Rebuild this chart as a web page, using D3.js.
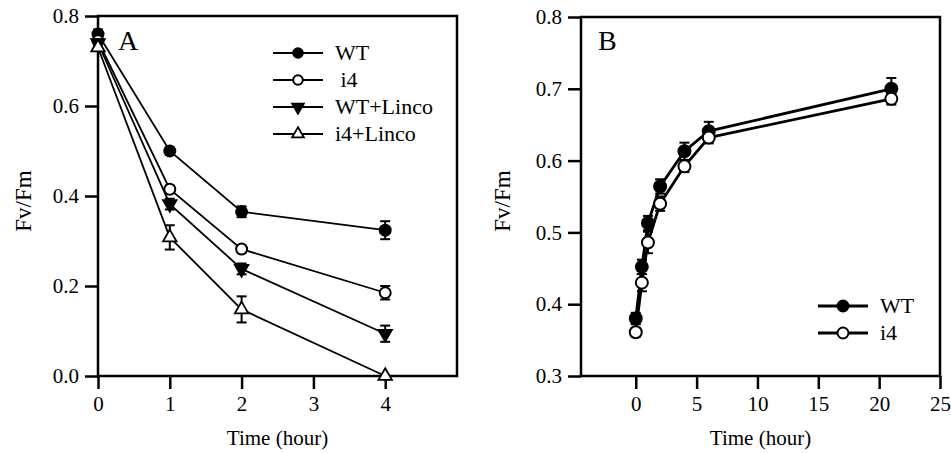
<!DOCTYPE html>
<html>
<head>
<meta charset="utf-8">
<script src="https://cdn.jsdelivr.net/npm/d3@7"></script>
<style>
  body { margin: 0; background: #fff; }
</style>
</head>
<body>
<div id="chart"></div>
<script>

// panel A : Fv/Fm during high light, hours
var timeA = [0, 1, 2, 4];
var seriesA = ["WT", " i4", "WT+Linco", "i4+Linco"];
var wtA      = [0.760, 0.500, 0.365, 0.324];
var wtErrA   = [0.010, 0.008, 0.012, 0.020];
var i4A      = [0.745, 0.415, 0.282, 0.185];
var i4ErrA   = [0.008, 0.008, 0.008, 0.015];
var wtLinA   = [0.740, 0.382, 0.238, 0.094];
var wtLinErrA= [0.008, 0.012, 0.012, 0.018];
var i4LinA   = [0.730, 0.308, 0.148, 0.000];
var i4LinErrA= [0.008, 0.027, 0.029, 0.004];

// panel B : recovery, hours
var timeB = [0, 0.5, 1, 2, 4, 6, 21];
var seriesB = ["WT", "i4"];
var wtB    = [0.380, 0.452, 0.513, 0.564, 0.613, 0.641, 0.700];
var wtErrB = [0.008, 0.010, 0.010, 0.010, 0.012, 0.013, 0.015];
var i4B    = [0.361, 0.430, 0.486, 0.540, 0.592, 0.632, 0.686];
var i4ErrB = [0.006, 0.012, 0.015, 0.010, 0.008, 0.008, 0.008];

var ticksA = [0, 0.2, 0.4, 0.6, 0.8];
var ticksB = [0.3, 0.4, 0.5, 0.6, 0.7, 0.8];

var FONT = "'Liberation Serif', 'Times New Roman', Times, serif";

var svg = d3.select("#chart").append("svg")
    .attr("width", 951)
    .attr("height", 453)
    .style("font-family", FONT);

function marker(g, kind, x, y, r){
	if (kind == "dot" || kind == "circle") {
		g.append("circle")
			.attr("cx", x).attr("cy", y).attr("r", r)
			.attr("fill", kind == "dot" ? "#000" : "#fff")
			.attr("stroke", "#000")
			.attr("stroke-width", 2);
	} else {
		// triangles, "down" filled, "up" open
		var s = d3.symbol().type(d3.symbolTriangle).size(r * r * 2.6);
		g.append("path")
			.attr("d", s)
			.attr("transform", "translate(" + x + "," + y + ")" + (kind == "down" ? " rotate(180)" : ""))
			.attr("fill", kind == "down" ? "#000" : "#fff")
			.attr("stroke", "#000")
			.attr("stroke-width", 1.8);
	}
}

function label(g, x, y, size, str){
	return g.append("text")
		.attr("x", x).attr("y", y)
		.style("font-family", FONT)
		.style("font-size", size + "px")
		.attr("fill", "#000")
		.text(str);
}

function drawPanel(p){
	var g = svg.append("g");
	var x = d3.scaleLinear().domain(p.xDomain).range([p.left, p.right]);
	var y = d3.scaleLinear().domain(p.yDomain).range([p.bottom, p.top]);

	// frame
	g.append("rect")
		.attr("x", p.left).attr("y", p.top)
		.attr("width", p.right - p.left).attr("height", p.bottom - p.top)
		.attr("fill", "none").attr("stroke", "#000").attr("stroke-width", 2.5);

	var ax = g.append("g")
		.attr("transform", "translate(0," + p.bottom + ")")
		.call(d3.axisBottom(x).tickValues(p.xTicks).tickSize(13).tickPadding(7).tickFormat(d3.format("d")));
	var ay = g.append("g")
		.attr("transform", "translate(" + p.left + ",0)")
		.call(d3.axisLeft(y).tickValues(p.yTicks).tickSize(13).tickPadding(6).tickFormat(d3.format(".1f")));
	[ax, ay].forEach(function(a){
		a.attr("font-family", null).attr("font-size", null);
		a.select(".domain").remove();
		a.selectAll("line").attr("stroke", "#000").attr("stroke-width", 2.5);
		a.selectAll("text")
			.style("font-family", FONT)
			.style("font-size", "21px")
			.attr("fill", "#000");
	});

	label(g, (p.left + p.right) / 2, 445, 21, "Time (hour)")
		.attr("text-anchor", "middle");

	label(g, 0, 0, 23, "Fv/Fm")
		.attr("transform", "translate(" + p.ylabX + ",201) rotate(-90)")
		.attr("text-anchor", "middle");

	label(g, p.letterX, 50, 28, p.letter);

	var line = d3.line()
		.x(function(d) { return x(d.t); })
		.y(function(d) { return y(d.v); });

	p.series.forEach(function(s){
		var pts = s.vals.map(function(v, i){ return {t: p.time[i], v: v, e: s.err[i]}; });
		g.append("path")
			.attr("d", line(pts))
			.attr("fill", "none")
			.attr("stroke", "#000")
			.attr("stroke-width", p.lineW);
		pts.forEach(function(d){
			if (d.e > 0.005) {
				g.append("line")
					.attr("x1", x(d.t)).attr("x2", x(d.t))
					.attr("y1", y(d.v - d.e)).attr("y2", y(d.v + d.e))
					.attr("stroke", "#000").attr("stroke-width", 2);
				[d.v - d.e, d.v + d.e].forEach(function(c){
					g.append("line")
						.attr("x1", x(d.t) - 5).attr("x2", x(d.t) + 5)
						.attr("y1", y(c)).attr("y2", y(c))
						.attr("stroke", "#000").attr("stroke-width", 2);
				});
			}
			marker(g, s.kind, x(d.t), y(d.v), p.r);
		});
	});

	// legend
	p.series.forEach(function(s, i){
		var ly = p.legY + i * 27;
		g.append("line")
			.attr("x1", p.legX).attr("x2", p.legX + 50)
			.attr("y1", ly).attr("y2", ly)
			.attr("stroke", "#000").attr("stroke-width", p.lineW);
		marker(g, s.kind, p.legX + 25, ly, p.legR);
		label(g, p.legX + 62, ly + 7, 22, s.name)
			.attr("xml:space", "preserve")
			.style("white-space", "pre");
	});
}

drawPanel({
	left: 98, right: 457, top: 16, bottom: 376,
	xDomain: [0, 5], yDomain: [0, 0.8],
	xTicks: [0, 1, 2, 3, 4], yTicks: ticksA,
	ylabX: 31, letter: "A", letterX: 118,
	time: timeA, lineW: 1.8, r: 5.5,
	legX: 273, legY: 53, legR: 4.8,
	series: [
		{name: seriesA[0], vals: wtA, err: wtErrA, kind: "dot"},
		{name: seriesA[1], vals: i4A, err: i4ErrA, kind: "circle"},
		{name: seriesA[2], vals: wtLinA, err: wtLinErrA, kind: "down"},
		{name: seriesA[3], vals: i4LinA, err: i4LinErrA, kind: "up"}
	]
});

drawPanel({
	left: 581, right: 940, top: 17, bottom: 376,
	xDomain: [-4.5, 25], yDomain: [0.3, 0.8],
	xTicks: [0, 5, 10, 15, 20, 25], yTicks: ticksB,
	ylabX: 510, letter: "B", letterX: 598,
	time: timeB, lineW: 2.8, r: 6,
	legX: 818, legY: 306, legR: 5.5,
	series: [
		{name: seriesB[0], vals: wtB, err: wtErrB, kind: "dot"},
		{name: seriesB[1], vals: i4B, err: i4ErrB, kind: "circle"}
	]
});

</script>
</body>
</html>
